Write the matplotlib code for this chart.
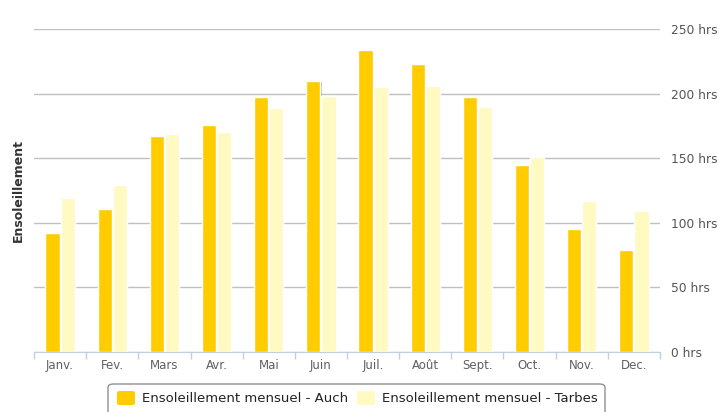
import matplotlib.pyplot as plt
import matplotlib.patheffects as pe
from matplotlib.patches import FancyBboxPatch
import numpy as np

months = ["Janv.", "Fev.", "Mars", "Avr.", "Mai", "Juin",
          "Juil.", "Août", "Sept.", "Oct.", "Nov.", "Dec."]
auch = [92, 111, 167, 176, 197, 210, 234, 223, 197, 145, 95, 79]
tarbes = [119, 129, 169, 170, 189, 198, 205, 206, 190, 151, 117, 109]
yticks = [0, 50, 100, 150, 200, 250]

W, H = 719, 412
fig = plt.figure(figsize=(W / 100, H / 100), dpi=100)
ax = fig.add_axes([34 / W, 60 / H, (660 - 34) / W, (352 - 29) / H])

x = np.arange(len(months))
shadow = [pe.SimplePatchShadow(offset=(0.8, -0.8), shadow_rgbFace="#707070", alpha=0.45),
          pe.Normal()]
b1 = ax.bar(x - 0.145, auch, width=0.27, color="#FFCC00", edgecolor="white",
            linewidth=1, label="Ensoleillement mensuel - Auch", zorder=3)
b2 = ax.bar(x + 0.145, tarbes, width=0.27, color="#FFFAC2", edgecolor="white",
            linewidth=1, label="Ensoleillement mensuel - Tarbes", zorder=3)
for b in list(b1) + list(b2):
    b.set_path_effects(shadow)

ax.set_xlim(-0.5, len(months) - 0.5)
ax.set_ylim(0, 250)
ax.yaxis.tick_right()
ax.set_yticks(yticks)
ax.set_yticklabels([f"{v} hrs" for v in yticks])
ax.grid(axis="y", color="#C0C0C0", linewidth=1, zorder=0)
ax.tick_params(axis="y", length=0, pad=8, labelsize=8.8, labelcolor="#555555")

# category labels in the middle, ticks on the boundaries
ax.set_xticks(x)
ax.set_xticklabels(months)
ax.set_xticks(np.arange(len(months) + 1) - 0.5, minor=True)
ax.tick_params(axis="x", which="major", length=0, pad=5, labelsize=8.5, labelcolor="#606060")
ax.tick_params(axis="x", which="minor", length=5, color="#C0D0E0", width=1)

for s in ["top", "right", "left"]:
    ax.spines[s].set_visible(False)
ax.spines["bottom"].set_color("#C0D0E0")
ax.spines["bottom"].set_zorder(4)

fig.text(18 / W, 1 - 190 / H, "Ensoleillement", rotation=90, ha="center", va="center",
         fontsize=9, fontweight="bold", color="#333333")

# legend box running past the bottom edge
box = FancyBboxPatch((108 / W, -10 / H), (605 - 108) / W, (H - 384 + 10) / H,
                     boxstyle="round,pad=0,rounding_size=0.008", transform=fig.transFigure,
                     facecolor="white", edgecolor="#909090", linewidth=1)
fig.patches.append(box)

for bars, col, xs in [(b1, "#FFCC00", 117), (b2, "#FFFAC2", 357)]:
    sq = FancyBboxPatch((xs / W, 1 - 405 / H), 18 / W, 14 / H,
                        boxstyle="round,pad=0,rounding_size=0.004", transform=fig.transFigure,
                        facecolor=col, edgecolor="none")
    fig.patches.append(sq)
    fig.text((xs + 25) / W, 1 - 398 / H, bars.get_label(), ha="left", va="center",
             fontsize=9.5, color="#222222")

fig.savefig("out.png", dpi=100)
